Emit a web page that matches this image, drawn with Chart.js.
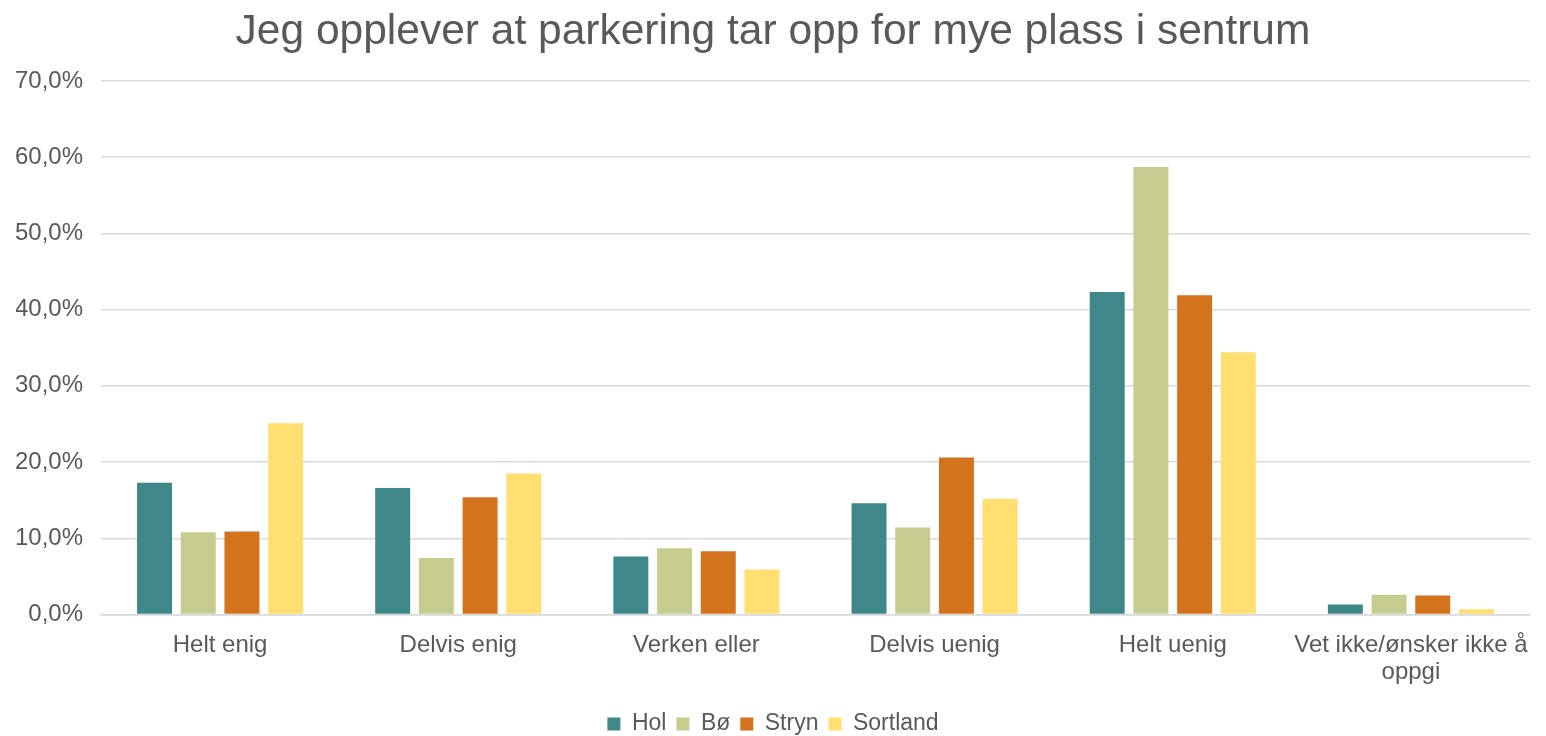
<!DOCTYPE html>
<html lang="no">
<head>
    <meta charset="UTF-8">
    <title>Parkering i sentrum</title>
    <script src="https://cdn.jsdelivr.net/npm/chart.js"></script>
    <style>
        body { margin: 0; background: #fff; }
        #wrap { width: 1546px; height: 736px; }
    </style>
</head>
<body>
    <div id="wrap"><canvas id="myChart"></canvas></div>

    <script>
        // Data (percent)
        const categories = ['Helt enig', 'Delvis enig', 'Verken eller', 'Delvis uenig', 'Helt uenig', ['Vet ikke/ønsker ikke å', 'oppgi']];
        const hol      = [17.3, 16.6, 7.6, 14.6, 42.3, 1.3];
        const bo       = [10.8, 7.4, 8.7, 11.4, 58.7, 2.6];
        const stryn    = [10.9, 15.4, 8.3, 20.6, 41.9, 2.5];
        const sortland = [25.1, 18.5, 5.9, 15.2, 34.4, 0.7];

        const seriesNames = ['Hol', 'Bø', 'Stryn', 'Sortland'];
        const seriesColors = ['#3F8789', '#C6CC8F', '#D4731E', '#FFDF72'];
        const seriesValues = [hol, bo, stryn, sortland];

        const textColor = '#595959';
        const font = 'Arial, "Liberation Sans", sans-serif';

        const data = {
            labels: categories,
            datasets: seriesNames.map((name, i) => ({
                label: name,
                data: seriesValues[i],
                backgroundColor: seriesColors[i],
                borderWidth: 0,
                barPercentage: 0.8,
                categoryPercentage: 0.734
            }))
        };

        const config = {
            type: 'bar',
            data: data,
            options: {
                responsive: true,
                maintainAspectRatio: false,
                animation: false,
                layout: { padding: { left: 16, right: 16, top: 7, bottom: -9.5 } },
                plugins: {
                    title: {
                        display: true,
                        text: 'Jeg opplever at parkering tar opp for mye plass i sentrum',
                        color: textColor,
                        font: { family: font, size: 42.5, weight: 'normal' },
                        padding: { top: 0, bottom: 23 }
                    },
                    legend: {
                        position: 'bottom',
                        labels: {
                            color: textColor,
                            font: { family: font, size: 23 },
                            boxWidth: 13,
                            boxHeight: 13,
                            padding: 10
                        }
                    },
                    tooltip: { enabled: false }
                },
                scales: {
                    x: {
                        afterFit: axis => { axis.height += 8; },
                        grid: { display: false },
                        border: { display: true, color: '#d9d9d9', width: 1.5 },
                        ticks: {
                            color: textColor,
                            font: { family: font, size: 24, lineHeight: 1.125 },
                            maxRotation: 0,
                            autoSkip: false,
                            padding: 9
                        }
                    },
                    y: {
                        min: 0,
                        max: 70,
                        afterFit: axis => { axis.width = 85; },
                        grid: { color: '#d9d9d9', lineWidth: 1.5, drawTicks: false },
                        border: { display: false },
                        ticks: {
                            stepSize: 10,
                            color: textColor,
                            font: { family: font, size: 24 },
                            padding: 18,
                            callback: v => v.toFixed(1).replace('.', ',') + '%'
                        }
                    }
                }
            }
        };

        var myChart = new Chart(document.getElementById('myChart'), config);
    </script>
</body>
</html>
